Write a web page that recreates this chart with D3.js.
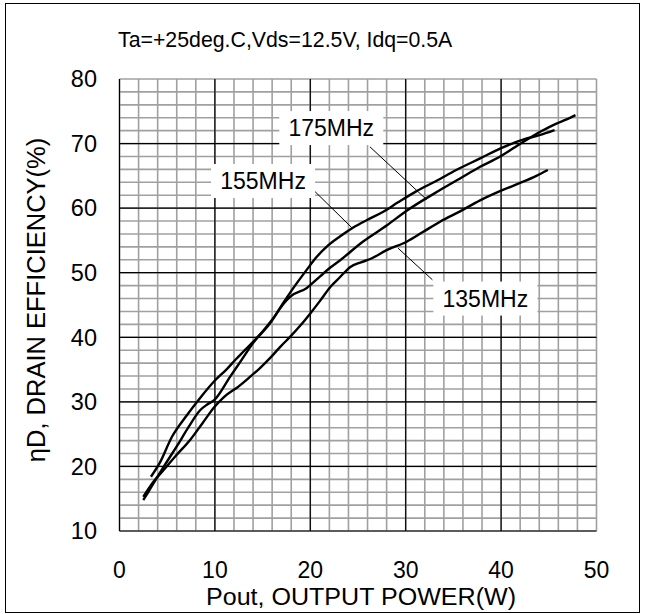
<!DOCTYPE html>
<html>
<head>
<meta charset="utf-8">
<script src="https://cdn.jsdelivr.net/npm/d3@7"></script>
<style>
  body { margin: 0; background: #fff; }
  svg text { font-family: "Liberation Sans", Arial, sans-serif; fill: #000; }
</style>
</head>
<body>
<div id="chart"></div>
<script>
// curves: [Pout (W), drain efficiency (%)]
const eff155 = [
  [2.5, 14.8], [3.0, 16.0], [3.9, 18.2], [5.0, 20.8], [6.0, 23.1], [7.2, 26.0],
  [8.45, 28.7], [9.2, 29.6], [9.95, 30.3], [11.6, 33.9], [12.8, 36.5], [14.0, 39.1],
  [15.8, 42.2], [17.2, 45.4], [18.4, 48.0], [19.6, 50.4], [20.7, 52.5], [21.7, 54.0],
  [23.1, 55.6], [24.5, 57.0], [26.0, 58.2], [27.6, 59.4], [29.2, 60.9], [31.1, 62.6],
  [33.2, 64.2], [35.3, 65.9], [37.8, 67.7], [40.0, 69.3], [42.3, 70.6], [44.0, 71.3],
  [45.6, 72.1]
];
const eff175 = [
  [3.3, 18.4], [4.2, 20.5], [5.5, 24.6], [7.0, 27.8], [8.45, 30.6], [10.0, 33.3],
  [11.2, 35.0], [12.2, 36.6], [13.0, 37.8], [14.0, 39.3], [15.0, 40.9], [16.0, 42.7],
  [17.2, 45.2], [17.9, 46.3], [19.6, 47.6], [21.0, 49.4], [22.1, 50.8], [23.1, 51.9],
  [25.5, 54.8], [28.0, 57.3], [30.1, 59.6], [33.6, 62.8], [35.7, 64.6], [37.8, 66.4],
  [39.9, 68.0], [41.3, 69.3], [42.7, 70.6], [44.2, 71.9], [45.8, 73.1], [46.8, 73.7],
  [47.8, 74.4]
];
const eff135 = [
  [2.5, 15.3], [3.5, 17.5], [4.6, 19.4], [6.0, 21.8], [7.4, 24.1], [8.7, 26.7],
  [9.95, 29.2], [11.0, 30.8], [12.5, 32.4], [13.7, 33.9], [14.7, 35.2], [15.8, 36.8],
  [16.9, 38.6], [17.9, 40.1], [19.0, 41.9], [20.0, 43.7], [21.0, 45.6], [22.1, 47.8],
  [23.1, 49.3], [24.2, 50.9], [25.3, 51.6], [26.4, 52.2], [28.0, 53.5], [30.1, 54.8],
  [31.8, 56.3], [33.6, 57.9], [35.7, 59.5], [37.8, 61.2], [40.0, 62.7], [42.0, 63.9],
  [43.7, 65.0], [44.9, 65.9]
];

const xTicks = [0, 10, 20, 30, 40, 50];
const yTicks = [10, 20, 30, 40, 50, 60, 70, 80];

// callout labels: box centre and leader line, in data units
const callouts = [
  { text: "175MHz", at: [22.2, 72.4], from: [26.25, 69.5], to: [32.2, 61.3] },
  { text: "155MHz", at: [15.05, 64.2], from: [20.4, 62.7], to: [24.4, 56.9] },
  { text: "135MHz", at: [38.35, 46.0], from: [29.2, 53.8], to: [32.8, 48.9] }
];

const conditions = "Ta=+25deg.C,Vds=12.5V, Idq=0.5A";

const width = 645, height = 614;
const svg = d3.select("#chart").append("svg")
  .attr("width", width).attr("height", height);

// outer frame of the figure
svg.append("rect")
  .attr("x", 5.5).attr("y", 3.5)
  .attr("width", 634).attr("height", 609)
  .attr("fill", "none").attr("stroke", "#000").attr("stroke-width", 1);

const x = d3.scaleLinear().domain([0, 50]).range([119.5, 596.5]);
const y = d3.scaleLinear().domain([10, 80]).range([531, 79]);

// minor grid, every 2 units
const minorX = d3.range(0, 50.01, 2);
const minorY = d3.range(10, 80.01, 2);
const grid = svg.append("g");
grid.selectAll(".vx").data(minorX).join("line")
  .attr("x1", d => x(d)).attr("x2", d => x(d))
  .attr("y1", y(10)).attr("y2", y(80))
  .attr("stroke", "#a0a0a0").attr("stroke-width", 1.6);
grid.selectAll(".hy").data(minorY).join("line")
  .attr("y1", d => y(d)).attr("y2", d => y(d))
  .attr("x1", x(0)).attr("x2", x(50))
  .attr("stroke", "#a0a0a0").attr("stroke-width", 1.6);

// major grid, black, plus the left and bottom axes
grid.selectAll(".mx").data(xTicks.filter(d => d < 50)).join("line")
  .attr("x1", d => x(d)).attr("x2", d => x(d))
  .attr("y1", y(10)).attr("y2", y(80))
  .attr("stroke", "#000").attr("stroke-width", 1.2);
grid.selectAll(".my").data(yTicks.filter(d => d < 80)).join("line")
  .attr("y1", d => y(d)).attr("y2", d => y(d))
  .attr("x1", x(0)).attr("x2", x(50))
  .attr("stroke", "#000").attr("stroke-width", 1.2);

// tick labels
svg.append("g").selectAll("text").data(yTicks).join("text")
  .attr("x", 97).attr("y", d => y(d))
  .attr("dy", "0.35em").attr("text-anchor", "end")
  .attr("font-size", 23.5)
  .text(d => d);
svg.append("g").selectAll("text").data(xTicks).join("text")
  .attr("x", d => x(d)).attr("y", 578)
  .attr("text-anchor", "middle")
  .attr("font-size", 23)
  .text(d => d);

// axis titles
svg.append("text")
  .attr("x", 361).attr("y", 605)
  .attr("text-anchor", "middle").attr("font-size", 23)
  .attr("textLength", 310).attr("lengthAdjust", "spacingAndGlyphs")
  .text("Pout, OUTPUT POWER(W)");
svg.append("text")
  .attr("transform", "translate(45,300) rotate(-90)")
  .attr("text-anchor", "middle").attr("font-size", 25.5)
  .text("\u03B7D, DRAIN EFFICIENCY(%)");

svg.append("text")
  .attr("x", 118).attr("y", 47)
  .attr("font-size", 21.3)
  .text(conditions);

// curves
const line = d3.line()
  .x(d => x(d[0])).y(d => y(d[1]))
  .curve(d3.curveMonotoneX);
svg.append("g").selectAll("path")
  .data([eff135, eff155, eff175]).join("path")
  .attr("d", line)
  .attr("fill", "none").attr("stroke", "#000")
  .attr("stroke-width", 2.4).attr("stroke-linejoin", "round");

// callouts
const co = svg.append("g").selectAll("g").data(callouts).join("g");
co.append("line")
  .attr("x1", d => x(d.from[0])).attr("y1", d => y(d.from[1]))
  .attr("x2", d => x(d.to[0])).attr("y2", d => y(d.to[1]))
  .attr("stroke", "#000").attr("stroke-width", 1);
co.append("rect")
  .attr("x", d => x(d.at[0]) - 52).attr("y", d => y(d.at[1]) - 17)
  .attr("width", 104).attr("height", 34)
  .attr("fill", "#fff");
co.append("text")
  .attr("x", d => x(d.at[0])).attr("y", d => y(d.at[1]))
  .attr("dy", "0.35em").attr("text-anchor", "middle")
  .attr("font-size", 23)
  .text(d => d.text);
</script>
</body>
</html>
